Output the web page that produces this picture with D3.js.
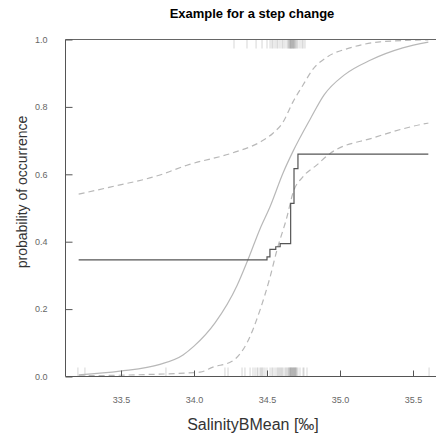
<!DOCTYPE html>
<html>
<head>
<script src="https://d3js.org/d3.v7.min.js"></script>
<style>
  body { margin: 0; background: #fff; }
  text { font-family: "Liberation Sans", Arial, sans-serif; }
</style>
</head>
<body>
<div id="chart"></div>
<script>
// step change fit (salinity, probability)
var stepX = [33.21, 34.50, 34.52, 34.56, 34.59, 34.662, 34.685, 34.712, 35.605];
var stepY = [0.346, 0.355, 0.377, 0.385, 0.394, 0.514, 0.617, 0.660, 0.660];

// smooth fit (solid) and its bounds (dashed)
var fitX = [33.21, 33.493, 33.767, 33.925, 34.0, 34.144, 34.295, 34.37, 34.452, 34.52, 34.61, 34.678, 34.80, 34.89, 35.03, 35.21, 35.43, 35.605];
var fitY = [0.005, 0.016, 0.036, 0.064, 0.09, 0.159, 0.27, 0.347, 0.438, 0.503, 0.604, 0.668, 0.767, 0.835, 0.895, 0.939, 0.975, 0.992];

var upperX = [33.21, 33.425, 33.767, 33.952, 34.267, 34.45, 34.541, 34.61, 34.678, 34.747, 34.815, 34.911, 35.068, 35.274, 35.605];
var upperY = [0.541, 0.562, 0.598, 0.627, 0.664, 0.695, 0.722, 0.755, 0.815, 0.865, 0.912, 0.948, 0.975, 0.993, 0.999];

var lowerX = [33.21, 33.60, 34.041, 34.13, 34.26, 34.363, 34.452, 34.521, 34.568, 34.637, 34.678, 34.747, 34.842, 34.932, 35.226, 35.568, 35.605];
var lowerY = [0.002, 0.005, 0.013, 0.028, 0.045, 0.10, 0.197, 0.295, 0.375, 0.474, 0.545, 0.593, 0.628, 0.662, 0.708, 0.749, 0.752];

// observations: absences (bottom rug) and presences (top rug)
var absent = [33.205, 33.253, 33.808, 34.212, 34.233, 34.329, 34.349, 34.384, 34.404, 34.418, 34.432, 34.438,
  34.452, 34.459, 34.466, 34.473, 34.486, 34.50, 34.521, 34.534, 34.541, 34.555, 34.568, 34.575, 34.582,
  34.589, 34.596, 34.603, 34.61, 34.623, 34.63, 34.637, 34.644, 34.651, 34.658, 34.664, 34.671, 34.678,
  34.685, 34.692, 34.699, 34.705, 34.712, 34.726, 34.747, 34.753, 34.774, 35.61,
  34.651, 34.658, 34.664, 34.671, 34.678, 34.685, 34.692, 34.699, 34.664, 34.678, 34.692];
var present = [34.274, 34.363, 34.425, 34.466, 34.50, 34.521, 34.534, 34.541, 34.555, 34.568, 34.575, 34.589,
  34.603, 34.61, 34.623, 34.637, 34.644, 34.651, 34.658, 34.664, 34.671, 34.678, 34.685, 34.692, 34.699,
  34.705, 34.712, 34.726, 34.74, 34.747, 34.76,
  34.651, 34.658, 34.664, 34.671, 34.678, 34.685, 34.692, 34.664, 34.678];

var xTicks = [33.5, 34.0, 34.5, 35.0, 35.5];
var yTicks = [0, 0.2, 0.4, 0.6, 0.8, 1.0];

var W = 436, H = 434;
var pLeft = 65.5, pRight = 436, pTop = 39.5, pBottom = 376.5;

var x = d3.scaleLinear().domain([33.5, 35.5]).range([121, 413]);
var y = d3.scaleLinear().domain([0, 1]).range([pBottom, pTop]);

var svg = d3.select("#chart").append("svg")
  .attr("width", W).attr("height", H);

svg.append("text")
  .attr("x", 252).attr("y", 18)
  .attr("text-anchor", "middle")
  .attr("font-size", "13px").attr("font-weight", "bold")
  .attr("fill", "#000")
  .text("Example for a step change");

// rugs
svg.append("g").selectAll("line").data(absent).enter().append("line")
  .attr("x1", function(d) { return x(d); }).attr("x2", function(d) { return x(d); })
  .attr("y1", pBottom).attr("y2", pBottom - 9)
  .attr("stroke", "#777").attr("stroke-opacity", 0.3).attr("stroke-width", 1);

svg.append("g").selectAll("line").data(present).enter().append("line")
  .attr("x1", function(d) { return x(d); }).attr("x2", function(d) { return x(d); })
  .attr("y1", pTop).attr("y2", pTop + 9)
  .attr("stroke", "#777").attr("stroke-opacity", 0.3).attr("stroke-width", 1);

// curves
function pts(xs, ys) { return xs.map(function(v, i) { return [v, ys[i]]; }); }
var smooth = d3.line().x(function(d) { return x(d[0]); }).y(function(d) { return y(d[1]); })
  .curve(d3.curveMonotoneX);

svg.append("path").datum(pts(fitX, fitY)).attr("d", smooth)
  .attr("fill", "none").attr("stroke", "#b8b8b8").attr("stroke-width", 1.2);
svg.append("path").datum(pts(upperX, upperY)).attr("d", smooth)
  .attr("fill", "none").attr("stroke", "#b8b8b8").attr("stroke-width", 1.2)
  .attr("stroke-dasharray", "6,4");
svg.append("path").datum(pts(lowerX, lowerY)).attr("d", smooth)
  .attr("fill", "none").attr("stroke", "#b8b8b8").attr("stroke-width", 1.2)
  .attr("stroke-dasharray", "6,4");

var step = d3.line().x(function(d) { return x(d[0]); }).y(function(d) { return y(d[1]); })
  .curve(d3.curveStepAfter);
svg.append("path").datum(pts(stepX, stepY)).attr("d", step)
  .attr("fill", "none").attr("stroke", "#555").attr("stroke-width", 1.2);

// axes frame
svg.append("line").attr("x1", pLeft).attr("x2", pRight).attr("y1", pTop).attr("y2", pTop)
  .attr("stroke", "#666").attr("stroke-width", 1);

var yAxis = svg.append("g").attr("transform", "translate(" + pLeft + ",0)")
  .call(d3.axisRight(y).tickValues(yTicks).tickSize(7).tickFormat(d3.format(".1f")));
yAxis.select(".domain").attr("stroke", "#555").attr("d", "M0," + pTop + "V" + pBottom);
yAxis.selectAll(".tick line").attr("stroke", "#555");
yAxis.selectAll(".tick text").attr("x", -18).attr("text-anchor", "end")
  .attr("font-size", "9px").attr("fill", "#666");

var xAxis = svg.append("g").attr("transform", "translate(0," + pBottom + ")")
  .call(d3.axisTop(x).tickValues(xTicks).tickSize(6).tickFormat(d3.format(".1f")));
xAxis.select(".domain").attr("stroke", "#555").attr("d", "M" + pLeft + ",0H" + pRight);
xAxis.selectAll(".tick line").attr("stroke", "#555");
xAxis.selectAll(".tick text").attr("y", 20).attr("dy", "0.71em")
  .attr("font-size", "9px").attr("fill", "#666");

svg.append("text")
  .attr("x", 253).attr("y", 430)
  .attr("text-anchor", "middle").attr("font-size", "16px").attr("fill", "#333")
  .text("SalinityBMean [\u2030]");

svg.append("text")
  .attr("transform", "translate(27,192) rotate(-90)")
  .attr("text-anchor", "middle").attr("font-size", "14px").attr("fill", "#333")
  .text("probability of occurrence");
</script>
</body>
</html>
